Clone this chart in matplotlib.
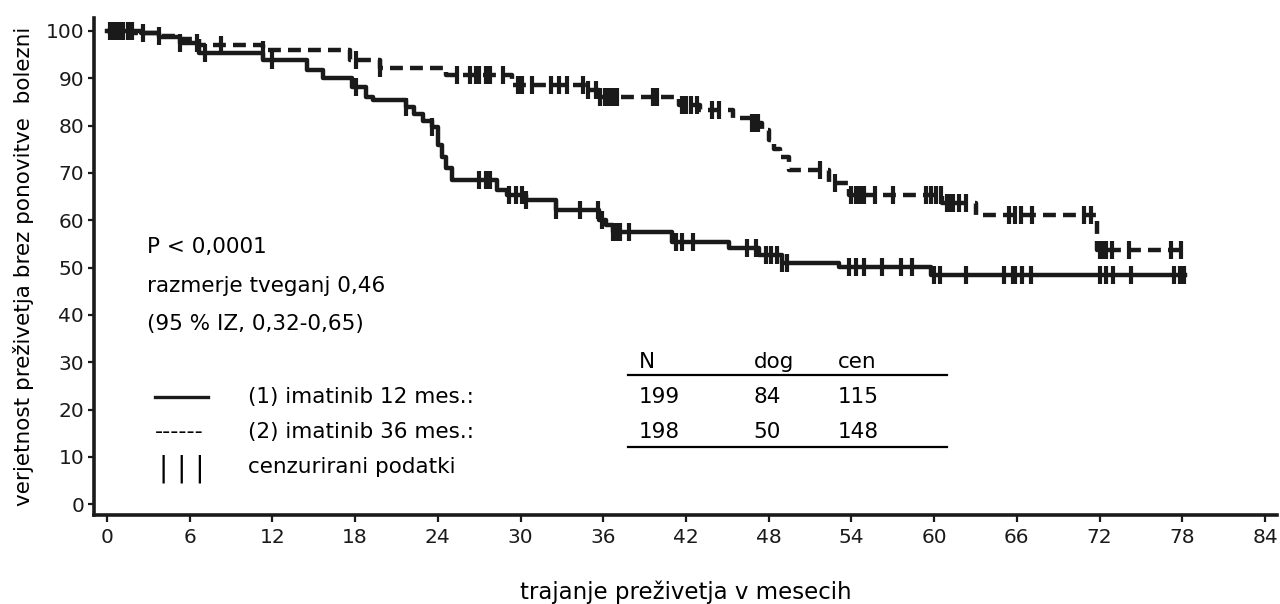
import numpy as np
import matplotlib
matplotlib.use("Agg")
import matplotlib.pyplot as plt

# Kaplan-Meier steps (months, % without relapse)
arm1_times = [0, 2.5, 3.8, 5.3, 6.7, 11.3, 14.5, 15.7, 17.8, 18.8, 19.3, 21.7, 22.3, 22.9,
              23.6, 24.0, 24.3, 24.6, 25.0, 28.3, 29.0, 30.4, 32.6, 35.7, 36.2, 36.7, 41.0,
              45.1, 47.3, 49.0, 53.1, 59.8]
arm1_surv = [100, 99.5, 98.8, 97.4, 95.3, 93.9, 91.8, 90.0, 88.2, 86.1, 85.4, 84.0, 82.5, 81.0,
             79.8, 76.0, 73.4, 71.0, 68.5, 66.4, 65.3, 64.3, 62.2, 60.0, 59.0, 57.6, 55.5,
             54.1, 52.6, 50.9, 50.2, 48.4]
arm1_end = 78.2
arm1_cens = [0.2, 0.5, 0.8, 1.2, 1.8, 5.3, 6.5, 7.1, 12.0, 18.1, 21.7, 23.6, 27.0, 27.5, 27.8,
             29.2, 29.7, 30.1, 30.4, 32.6, 34.3, 35.6, 35.9, 36.7, 37.0, 37.2, 37.9, 41.3,
             41.7, 42.5, 46.4, 47.1, 47.8, 48.2, 48.6, 49.0, 49.3, 53.8, 54.3, 54.9, 56.2,
             57.6, 58.4, 60.0, 60.4, 62.3, 65.1, 65.7, 65.9, 66.4, 67.0, 72.0, 72.5, 73.0,
             74.3, 77.4, 77.8, 78.1]

arm2_times = [0, 2.0, 3.6, 5.0, 6.7, 11.3, 17.6, 19.8, 24.6, 29.4, 34.8, 35.7, 41.5, 43.0,
              45.4, 46.8, 47.5, 48.0, 48.4, 48.8, 49.5, 52.4, 53.8, 60.6, 63.0, 71.8]
arm2_surv = [100, 99.6, 99.0, 98.2, 97.0, 96.0, 93.9, 92.1, 90.7, 88.6, 87.5, 86.1, 84.4, 83.3,
             81.5, 80.5, 79.0, 77.0, 75.0, 73.4, 70.6, 67.8, 65.3, 63.6, 61.1, 53.7]
arm2_end = 78.0
arm2_cens = [0.3, 0.6, 1.0, 1.5, 2.6, 3.8, 8.3, 11.3, 18.1, 19.8, 25.4, 26.3, 26.8, 27.0, 27.5,
             27.8, 28.7, 29.8, 30.1, 30.8, 32.2, 32.8, 33.4, 34.5, 34.9, 35.5, 35.8, 36.1,
             36.4, 36.7, 37.0, 39.6, 39.9, 41.7, 42.0, 42.4, 42.8, 43.9, 44.4, 46.8, 47.0,
             47.2, 51.7, 52.8, 54.0, 54.3, 54.6, 54.9, 55.7, 57.0, 59.4, 59.8, 60.1, 60.5,
             60.9, 61.1, 61.4, 61.8, 62.3, 65.4, 65.9, 66.3, 67.1, 70.9, 71.4, 72.0, 72.2,
             72.5, 72.9, 74.1, 77.2, 77.9]

stats_lines = ["P < 0,0001", "razmerje tveganj 0,46", "(95 % IZ, 0,32-0,65)"]
legend_labels = ["(1) imatinib 12 mes.:", "(2) imatinib 36 mes.:", "cenzurirani podatki"]
table_header = ["N", "dog", "cen"]
table_rows = [["199", "84", "115"], ["198", "50", "148"]]

x_ticks = np.arange(0, 85, 6)
y_ticks = np.arange(0, 101, 10)


def step_value(times, surv, t):
    idx = np.searchsorted(times, t, side='right') - 1
    return np.array(surv)[idx]


fig = plt.figure(figsize=(12.8, 6.04), dpi=100)
ax = fig.add_axes([0.0734, 0.147, 0.9246, 0.823])

for times, surv, end, cens, style in [
        (arm1_times, arm1_surv, arm1_end, arm1_cens, dict(ls='-')),
        (arm2_times, arm2_surv, arm2_end, arm2_cens, dict(ls=(0, (2.9, 1.6))))]:
    tx = list(times) + [end]
    sy = list(surv) + [surv[-1]]
    ax.step(tx, sy, where='post', color='#1a1a1a', lw=3.2, **style)
    cens = np.array(cens)
    ax.plot(cens, step_value(times, surv, cens), ls='none', marker='|',
            ms=13, mew=3, color='#1a1a1a')

ax.set_xlim(-0.94, 84.9)
ax.set_ylim(-2.3, 102.7)
ax.set_xticks(x_ticks)
ax.set_yticks(y_ticks)
ax.tick_params(axis='both', labelsize=14.5, width=1.6, color='#1a1a1a', labelcolor='#1a1a1a')
ax.tick_params(axis='x', length=5, pad=4)
ax.tick_params(axis='y', length=4, pad=3)
for s in ['top', 'right']:
    ax.spines[s].set_visible(False)
for s in ['left', 'bottom']:
    ax.spines[s].set_linewidth(2.6)
    ax.spines[s].set_color('#1a1a1a')

ax.set_xlabel("trajanje preživetja v mesecih", fontsize=16.5, labelpad=24)
ax.set_ylabel("verjetnost preživetja brez ponovitve  bolezni", fontsize=15.5, labelpad=8)

# statistics block
for i, s in enumerate(stats_lines):
    ax.text(2.9, 54.3 - i * 8.1, s, fontsize=15.5, va='center', ha='left')

# legend block
ax.plot([3.5, 7.3], [22.6, 22.6], color='#1a1a1a', lw=2.4)
ax.text(3.5, 15.2, "------", fontsize=16, va='center', ha='left')
ax.text(3.8, 7.6, "| | |", fontsize=20, va='center', ha='left')
for i, s in enumerate(legend_labels):
    ax.text(10.2, 22.6 - i * 7.4, s, fontsize=15.5, va='center', ha='left')

# N / events / censored table
col_x = [38.6, 46.9, 53.0]
for cx, h in zip(col_x, table_header):
    ax.text(cx, 30.0, h, fontsize=15.5, va='center', ha='left')
for r, row in enumerate(table_rows):
    for cx, v in zip(col_x, row):
        ax.text(cx, 22.6 - r * 7.4, v, fontsize=15.5, va='center', ha='left')
ax.plot([37.8, 60.9], [27.3, 27.3], color='black', lw=1.6)
ax.plot([37.8, 60.9], [12.1, 12.1], color='black', lw=1.6)

fig.savefig("out.png", dpi=100)
